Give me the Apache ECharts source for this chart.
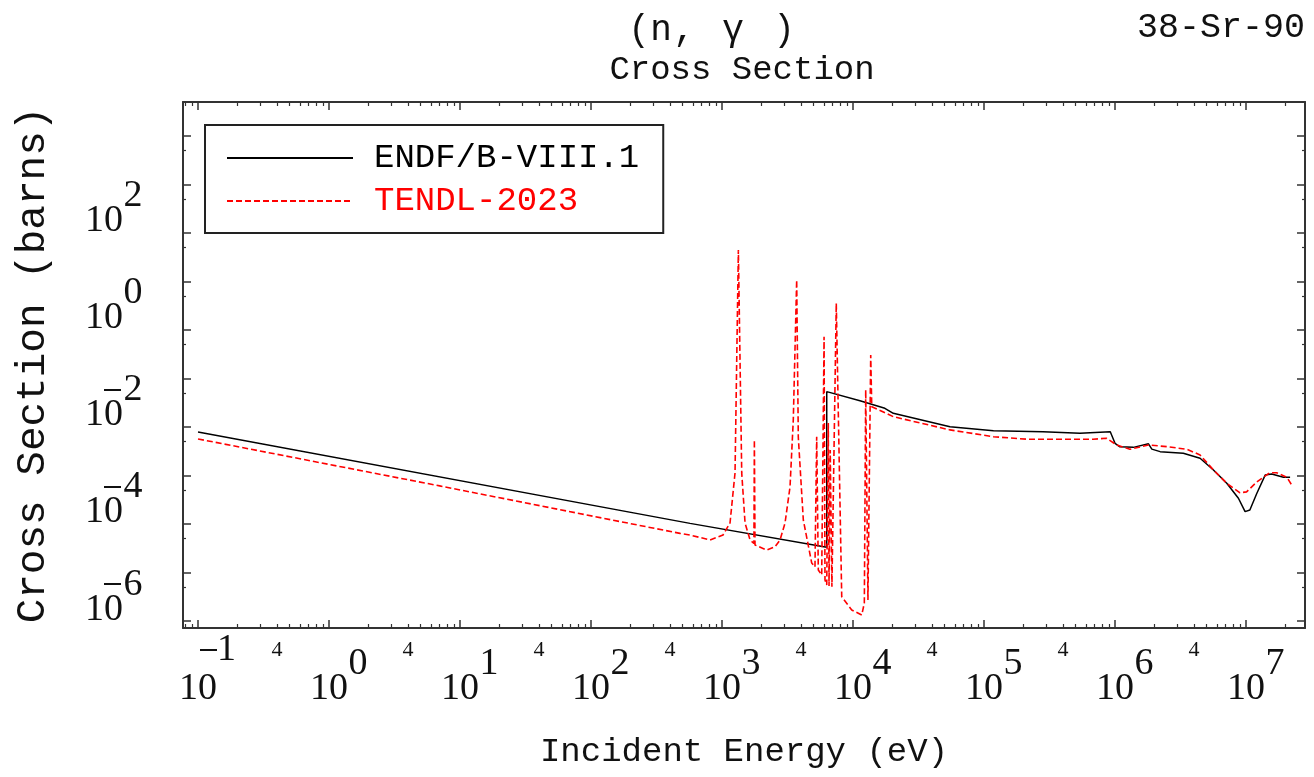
<!DOCTYPE html>
<html><head><meta charset="utf-8">
<script src="https://cdn.jsdelivr.net/npm/echarts@6/dist/echarts.min.js"></script>
<style>html,body{margin:0;padding:0;background:#fff}#c{width:1314px;height:777px}</style>
</head><body><div id="c"></div>
<script>
// ---- data ----
const endfE = [0.1, 570, 6300, 6300, 1.13e4, 1.75e4, 2.03e4, 5.5e4, 1.18e5, 2.82e5, 5.4e5, 9.2e5, 1.0e6, 1.09e6, 1.38e6, 1.80e6, 1.91e6, 2.21e6, 3.32e6, 4.46e6, 5.64e6, 7.13e6, 8.75e6, 9.84e6, 1.07e7, 1.21e7, 1.40e7, 1.57e7, 1.93e7, 2.17e7];
const endfXS = [7.9e-3, 1.03e-4, 3.3e-5, 0.0535, 0.0348, 0.0243, 0.0191, 0.0101, 8.4e-3, 8.0e-3, 7.4e-3, 8.0e-3, 4.6e-3, 3.9e-3, 3.8e-3, 4.5e-3, 3.5e-3, 3.1e-3, 2.87e-3, 2.26e-3, 1.30e-3, 6.9e-4, 3.4e-4, 1.8e-4, 1.95e-4, 4.3e-4, 1.02e-3, 1.07e-3, 9.2e-4, 9.2e-4];

const tendlE = [0.1, 7.0, 478, 570, 810, 1018, 1151, 1257, 1333, 1414, 1499, 1637, 1752, 1766, 1786, 2193, 2541, 2773, 3027, 3304, 3500, 3715, 3822, 4175, 4838, 5124, 5280, 5433, 5768, 6012, 6110, 6300, 6475, 6560, 6700, 6900, 7450, 8200, 9780, 1.166e4, 1.22e4, 1.25e4, 1.30e4, 1.365e4, 1.39e4, 2.03e4, 5.5e4, 1.18e5, 2.12e5, 6.8e5, 8.6e5, 1.03e6, 1.30e6, 1.80e6, 2.48e6, 3.53e6, 4.46e6, 5.64e6, 7.13e6, 9.0e6, 1.01e7, 1.21e7, 1.52e7, 1.71e7, 2.05e7, 2.23e7];
const tendlXS = [5.66e-3, 6.1e-4, 6.4e-5, 5.93e-5, 4.68e-5, 5.93e-5, 1.05e-4, 1.13e-3, 44.6, 1.13e-3, 1.05e-4, 4.68e-5, 4.0e-5, 5.4e-3, 3.69e-5, 2.91e-5, 3.4e-5, 4.68e-5, 1.05e-4, 5.8e-4, 0.0139, 10.7, 6.2e-3, 1.21e-4, 1.57e-5, 1.30e-5, 6.3e-3, 1.13e-5, 8.9e-6, 0.728, 7.0e-6, 5.5e-6, 0.0121, 5.3e-6, 3.36e-3, 5.1e-6, 3.55, 3.17e-6, 1.69e-6, 1.33e-6, 2.35e-6, 0.058, 2.7e-6, 0.305, 0.0262, 0.0163, 8.7e-3, 6.3e-3, 5.6e-3, 5.6e-3, 5.85e-3, 4.26e-3, 3.47e-3, 4.26e-3, 3.93e-3, 3.47e-3, 2.65e-3, 1.30e-3, 6.9e-4, 4.4e-4, 4.6e-4, 7.4e-4, 1.14e-3, 1.14e-3, 9.2e-4, 6.4e-4];

const seriesNames = ['ENDF/B-VIII.1', 'TENDL-2023'];

// ---- axes / ticks ----
const X_MIN = 0.0768, X_MAX = 2.82e7;
const Y_MIN = 7.18e-7, Y_MAX = 5.0e4;
const xDecades = [0.1, 1, 10, 100, 1e3, 1e4, 1e5, 1e6, 1e7];
const xMantissas = [2, 3, 4, 5, 6, 7, 8, 9];
const xMinorExtra = [0.08, 0.09, 2e7];
const xFourLabels = [0.4, 4, 40, 400, 4e3, 4e4, 4e5, 4e6];
const yDecades = [1e-6, 1e-5, 1e-4, 1e-3, 1e-2, 0.1, 1, 10, 100, 1e3, 1e4];
const yMinorTicks = [5e-6, 5e-5, 5e-4, 5e-3, 5e-2, 0.5, 5, 50, 500, 5e3];
const yLabelValues = [1e-6, 1e-4, 1e-2, 1, 100];
const yNegLabels = [1e-6, 1e-4, 1e-2];
const xNegLabels = [0.1];

const xMinorTicks = xMinorExtra.slice();
xDecades.slice(0, 8).forEach(d => xMantissas.forEach(m => xMinorTicks.push(+(m * d).toPrecision(3))));

const AX = '#333', TXT = '#111';
const MONO = '"Liberation Mono", "DejaVu Sans Mono", monospace';
const SERIF = '"Liberation Serif", "DejaVu Serif", serif';

function expOf(v) { return Math.round(Math.log10(v)); }

const richNum = {
  b: {fontFamily: SERIF, fontSize: 38, color: TXT, lineHeight: 38, padding: [25, 0, 0, 0]},
  e: {fontFamily: SERIF, fontSize: 38, color: TXT, lineHeight: 38, padding: [0, 0, 25, 0], width: 20, align: 'left'},
  p: {width: 20, lineHeight: 38}
};
const richBar = {
  m: {width: 17, height: 2, backgroundColor: TXT},
  s: {width: 22, height: 2},
  s2: {width: 2, height: 2},
  x: {fontFamily: SERIF, fontSize: 38, color: TXT, lineHeight: 38}
};
const richTitle = {
  c1: {fontFamily: MONO, fontSize: 36, color: TXT, width: 18, align: 'center'},
  c2: {fontFamily: MONO, fontSize: 36, color: TXT, width: 26, align: 'center'},
  c3: {fontFamily: MONO, fontSize: 36, color: TXT, width: 20, align: 'center'},
  c4: {fontFamily: MONO, fontSize: 36, color: TXT, width: 78, align: 'center'},
  c5: {fontFamily: MONO, fontSize: 36, color: TXT, width: 24, align: 'center'}
};

function logAxisBase(extra) {
  return Object.assign({
    type: 'log', logBase: 10, gridIndex: 0,
    splitLine: {show: false}, minorTick: {show: false}, minorSplitLine: {show: false},
    axisLine: {show: false, onZero: false},
    axisTick: {show: false},
    axisLabel: {show: false}
  }, extra);
}

const option = {
  animation: false,
  backgroundColor: '#fff',
  grid: {left: 183, right: 9, top: 102, bottom: 149, containLabel: false},
  legend: {
    orient: 'vertical', left: 205, top: 125,
    padding: [13, 24, 12, 21], itemGap: 3, itemWidth: 126, itemHeight: 14,
    borderColor: '#222', borderWidth: 2, backgroundColor: '#fff',
    itemStyle: {opacity: 0},
    textStyle: {fontFamily: MONO, fontSize: 34, lineHeight: 40, padding: [0, 0, 0, 16]},
    data: [
      {name: seriesNames[0], textStyle: {color: '#000'}},
      {name: seriesNames[1], textStyle: {color: '#ff0000'}}
    ]
  },
  graphic: [
    {type: 'text', x: 630, y: 30, style: {text: '{c1|(}{c2|n}{c3|,}{c4|γ}{c5|)}', rich: richTitle, fill: TXT, align: 'left', verticalAlign: 'middle'}},
    {type: 'text', x: 742, y: 70, style: {text: 'Cross Section', fontFamily: MONO, fontSize: 34, fill: TXT, align: 'center', verticalAlign: 'middle'}},
    {type: 'text', x: 1305, y: 28, style: {text: '38-Sr-90', fontFamily: MONO, fontSize: 35, fill: TXT, align: 'right', verticalAlign: 'middle'}}
  ],
  xAxis: [
    logAxisBase({
      position: 'bottom', min: X_MIN, max: X_MAX,
      axisLine: {show: true, onZero: false, lineStyle: {color: AX, width: 2}},
      axisTick: {show: true, inside: true, length: 8, lineStyle: {color: AX, width: 1.5}, customValues: xDecades},
      axisLabel: {show: true, customValues: xDecades, margin: 30, hideOverlap: false,
        formatter: v => { const n = expOf(v); return n < 0 ? '{p| }{b|10}{e| }' : '{p| }{b|10}{e|' + n + '}'; },
        rich: richNum},
      name: 'Incident Energy (eV)', nameLocation: 'middle', nameGap: 107,
      nameTextStyle: {fontFamily: MONO, fontSize: 34, color: TXT}
    }),
    logAxisBase({
      position: 'bottom', min: X_MIN, max: X_MAX,
      axisTick: {show: true, inside: true, length: 4, lineStyle: {color: AX, width: 1.2}, customValues: xMinorTicks},
      axisLabel: {show: true, customValues: xFourLabels, margin: 11, hideOverlap: false,
        formatter: () => '4', fontFamily: SERIF, fontSize: 22, color: TXT}
    }),
    logAxisBase({
      position: 'top', min: X_MIN, max: X_MAX,
      axisLine: {show: true, onZero: false, lineStyle: {color: AX, width: 2}},
      axisTick: {show: true, inside: true, length: 8, lineStyle: {color: AX, width: 1.5}, customValues: xDecades}
    }),
    logAxisBase({
      position: 'top', min: X_MIN, max: X_MAX,
      axisTick: {show: true, inside: true, length: 4, lineStyle: {color: AX, width: 1.2}, customValues: xMinorTicks}
    }),
    logAxisBase({
      position: 'bottom', min: X_MIN, max: X_MAX,
      axisLabel: {show: true, customValues: xNegLabels, margin: 3, align: 'left', hideOverlap: false,
        formatter: v => '{s2|}{m|}{x|' + Math.abs(expOf(v)) + '}', rich: richBar}
    })
  ],
  yAxis: [
    logAxisBase({
      position: 'left', min: Y_MIN, max: Y_MAX,
      axisLine: {show: true, onZero: false, lineStyle: {color: AX, width: 2}},
      axisTick: {show: true, inside: true, length: 8, lineStyle: {color: AX, width: 1.5}, customValues: yDecades},
      axisLabel: {show: true, customValues: yLabelValues, margin: 40, hideOverlap: false, padding: [0, 0, 48, 0],
        formatter: v => '{b|10}{e|' + Math.abs(expOf(v)) + '}', rich: richNum},
      name: 'Cross Section (barns)', nameLocation: 'middle', nameGap: 129,
      nameTextStyle: {fontFamily: MONO, fontSize: 41, color: TXT}
    }),
    logAxisBase({
      position: 'left', min: Y_MIN, max: Y_MAX,
      axisTick: {show: true, inside: true, length: 3, lineStyle: {color: AX, width: 1.2}, customValues: yMinorTicks}
    }),
    logAxisBase({
      position: 'right', min: Y_MIN, max: Y_MAX,
      axisLine: {show: true, onZero: false, lineStyle: {color: AX, width: 2}},
      axisTick: {show: true, inside: true, length: 8, lineStyle: {color: AX, width: 1.5}, customValues: yDecades}
    }),
    logAxisBase({
      position: 'right', min: Y_MIN, max: Y_MAX,
      axisTick: {show: true, inside: true, length: 3, lineStyle: {color: AX, width: 1.2}, customValues: yMinorTicks}
    }),
    logAxisBase({
      position: 'left', min: Y_MIN, max: Y_MAX,
      axisLabel: {show: true, customValues: yNegLabels, margin: 40, hideOverlap: false, padding: [0, 0, 74, 0],
        formatter: () => '{m|}{s|}', rich: richBar}
    })
  ],
  series: [
    {name: seriesNames[0], type: 'line', xAxisIndex: 0, yAxisIndex: 0, symbol: 'none', z: 3,
     lineStyle: {color: '#000', width: 1.5}, itemStyle: {color: '#000'},
     data: endfE.map((e, i) => [e, endfXS[i]])},
    {name: seriesNames[1], type: 'line', xAxisIndex: 0, yAxisIndex: 0, symbol: 'none', z: 4,
     lineStyle: {color: '#ff0000', width: 1.6, type: [6, 3]}, itemStyle: {color: '#ff0000'},
     data: tendlE.map((e, i) => [e, tendlXS[i]])}
  ]
};

const chart = echarts.init(document.getElementById('c'), null, {renderer: 'canvas'});
chart.setOption(option);
</script>
</body></html>
